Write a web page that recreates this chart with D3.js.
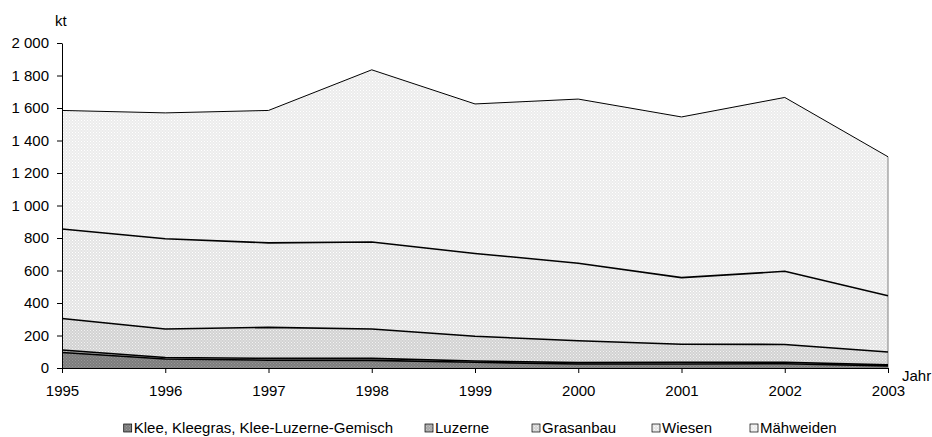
<!DOCTYPE html>
<html><head><meta charset="utf-8">
<script src="https://cdn.jsdelivr.net/npm/d3@7"></script>
<style>body{margin:0;background:#fff}svg{display:block;font-family:"Liberation Sans",Arial,sans-serif}</style>
</head><body><svg id="c" width="932" height="437"></svg>
<script>
const years = [1995,1996,1997,1998,1999,2000,2001,2002,2003];
const seriesNames = ["Klee, Kleegras, Klee-Luzerne-Gemisch","Luzerne","Grasanbau","Wiesen","Mähweiden"];
const klee      = [95, 55, 48, 47, 35, 25, 25, 26, 13];
const luzerne   = [16, 10, 11, 12, 8, 8, 10, 9, 6];
const grasanbau = [194, 175, 191, 181, 152, 135, 111, 110, 79];
const wiesen    = [550, 555, 520, 535, 510, 477, 410, 450, 347];
const maehweiden= [730, 775, 815, 1060, 920, 1010, 989, 1070, 855];
const yTicks = [0,200,400,600,800,1000,1200,1400,1600,1800,2000];

const FS = 15;
const svg = d3.select("#c");
const x = d3.scaleLinear().domain([1995,2003]).range([62,888]);
const y = d3.scaleLinear().domain([0,2000]).range([368,43]);

const rows = years.map((yr,i)=>({year:yr, s0:klee[i], s1:luzerne[i], s2:grasanbau[i], s3:wiesen[i], s4:maehweiden[i]}));
const keys = ["s0","s1","s2","s3","s4"];
const stacked = d3.stack().keys(keys)(rows);

const defs = svg.append("defs");
const pats = [
  {base:"#7c7c7c", dot:"#9a9a9a"},
  {base:"#a8a8a8", dot:"#c8c8c8"},
  {base:"#d2d2d2", dot:"#f2f2f2"},
  {base:"#e4e4e4", dot:"#ffffff"},
  {base:"#ececec", dot:"#ffffff"}
];
pats.forEach((p,i)=>{
  const pt = defs.append("pattern").attr("id","p"+i).attr("width",3).attr("height",3).attr("patternUnits","userSpaceOnUse");
  pt.append("rect").attr("width",3).attr("height",3).attr("fill",p.base);
  pt.append("rect").attr("width",1).attr("height",1).attr("fill",p.dot);
  pt.append("rect").attr("x",1.5).attr("y",1.5).attr("width",1).attr("height",1).attr("fill",p.dot);
});

const area = d3.area().x(d=>x(d.data.year)).y0(d=>y(d[0])).y1(d=>y(d[1]));
const line = d3.line().x(d=>x(d.data.year)).y(d=>y(d[1]));

svg.append("g").selectAll("path").data(stacked).join("path")
  .attr("d",area).attr("fill",(d,i)=>"url(#p"+i+")");
svg.append("line").attr("x1",x(2003)).attr("x2",x(2003)).attr("y1",y(0)).attr("y2",y(stacked[4][8][1])).attr("stroke","#808080").attr("stroke-width",1);
svg.append("g").selectAll("path").data(stacked).join("path")
  .attr("d",line).attr("fill","none").attr("stroke","#000")
  .attr("stroke-width",(d,i)=>i===4?1:1.6);

// axes
const yAxis = d3.axisLeft(y).tickValues(yTicks).tickSize(5).tickSizeOuter(0)
  .tickFormat(d=>d3.format(",")(d).replace(/,/g," "));
const gy = svg.append("g").attr("transform","translate(62,0)").call(yAxis);
gy.attr("font-size",FS).attr("font-family","Liberation Sans, Arial, sans-serif");
gy.selectAll("text").attr("fill","#000").attr("x",-13);
gy.selectAll("line,path").attr("stroke","#000");

const xAxis = d3.axisBottom(x).tickValues(years).tickFormat(d3.format("d")).tickSize(5).tickSizeOuter(0);
const gx = svg.append("g").attr("transform","translate(0,368)").call(xAxis);
gx.attr("font-size",FS).attr("font-family","Liberation Sans, Arial, sans-serif");
gx.selectAll("text").attr("fill","#000").attr("y",17).attr("dy","0.71em");
gx.selectAll("line,path").attr("stroke","#000");

svg.append("text").attr("x",55).attr("y",26).attr("font-size",FS).text("kt");
svg.append("text").attr("x",902).attr("y",381).attr("font-size",FS).text("Jahr");

// legend
const legTextX = [null, 435, 542, 662, 760];
const lg = svg.append("g").selectAll("g").data(seriesNames).join("g");
lg.append("text").attr("y",433).attr("font-size",FS).text(d=>d);
lg.each(function(d,i){
  const g = d3.select(this);
  const t = g.select("text");
  let tx = legTextX[i];
  if (tx === null) { tx = 393 - t.node().getComputedTextLength(); }
  t.attr("x",tx);
  g.insert("rect","text").attr("x",tx-10).attr("y",424).attr("width",8).attr("height",8)
    .attr("fill","url(#p"+i+")").attr("stroke","#000").attr("stroke-width",0.7);
});
</script></body></html>
